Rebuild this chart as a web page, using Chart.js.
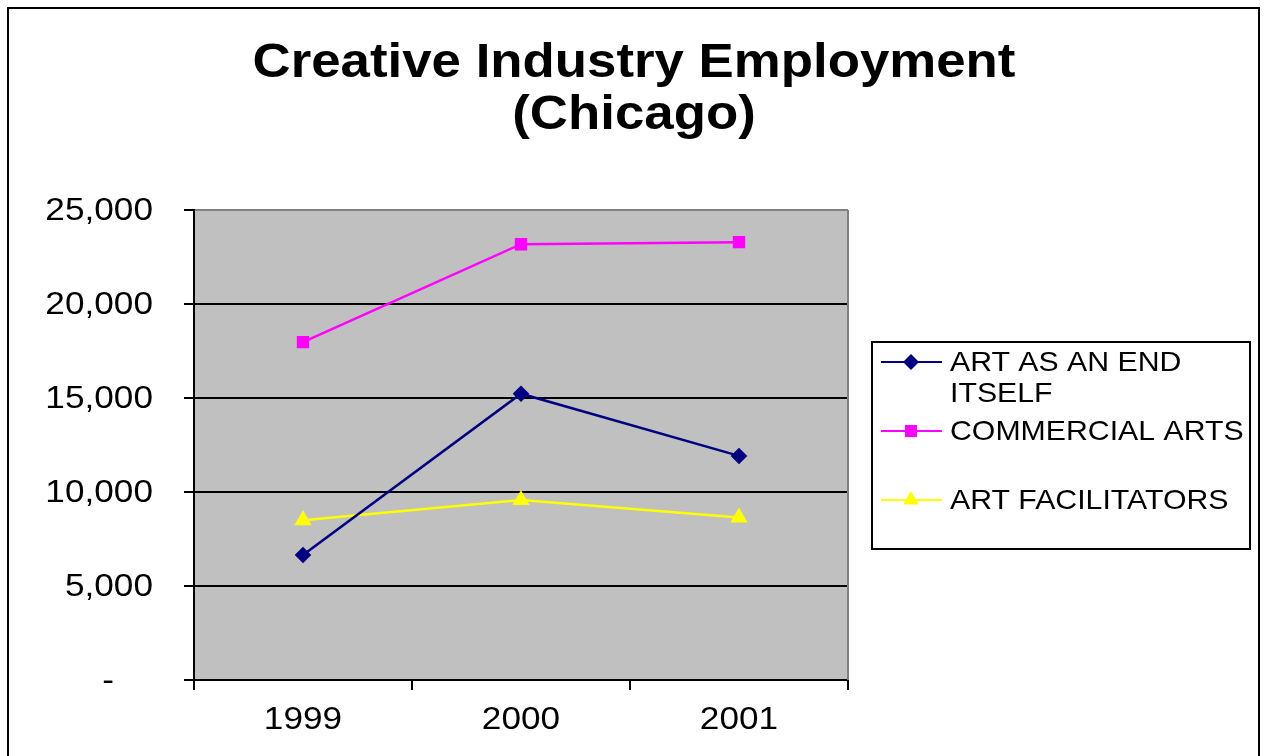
<html>
<head>
<style>
  body { margin: 0; background: #fff; }
  #wrap { width: 1264px; height: 756px; }
</style>
</head>
<body>
<div id="wrap"><canvas id="myChart" width="1264" height="756"></canvas></div>
<script src="https://cdn.jsdelivr.net/npm/chart.js@4/dist/chart.umd.min.js"></script>
<script>
// data
var years = ['1999', '2000', '2001'];
var artEndItself = [6650, 15230, 11920];
var commercialArts = [17970, 23180, 23290];
var artFacilitators = [8500, 9570, 8640];
var titleLines = ['Creative Industry Employment', '(Chicago)'];
var yTicks = [0, 5000, 10000, 15000, 20000, 25000];

var FONT = '"Liberation Sans", Arial, sans-serif';
var SX = 1.1; // the original text is a bit wide

function wideText(ctx, txt, x, y, align) {
    ctx.save();
    ctx.translate(x, y);
    ctx.scale(SX, 1);
    ctx.textAlign = align;
    ctx.fillText(txt, 0, 0);
    ctx.restore();
}

function marker(ctx, style, x, y, r, color) {
    ctx.save();
    ctx.fillStyle = color;
    ctx.beginPath();
    if (style == 'rectRot') {
        ctx.moveTo(x, y - r); ctx.lineTo(x + r, y); ctx.lineTo(x, y + r); ctx.lineTo(x - r, y);
    } else if (style == 'rect') {
        var s = r * Math.SQRT1_2;
        ctx.rect(x - s, y - s, 2 * s, 2 * s);
    } else {
        ctx.moveTo(x, y - r); ctx.lineTo(x + r * 0.866, y + r * 0.5); ctx.lineTo(x - r * 0.866, y + r * 0.5);
    }
    ctx.closePath();
    ctx.fill();
    ctx.restore();
}

// grey plot area, outer frame, title, tick labels, legend
var excelLook = {
    id: 'excelLook',
    beforeDraw: function(chart) {
        var ctx = chart.ctx, a = chart.chartArea;
        ctx.save();
        ctx.fillStyle = '#fff';
        ctx.fillRect(0, 0, chart.width, chart.height);
        ctx.fillStyle = '#c0c0c0';
        ctx.fillRect(a.left, a.top, a.right - a.left, a.bottom - a.top);
        ctx.strokeStyle = '#000';
        ctx.lineWidth = 2;
        ctx.strokeRect(8, 8, 1251, 800);
        ctx.restore();
    },
    beforeDatasetsDraw: function(chart) {
        var ctx = chart.ctx, a = chart.chartArea;
        ctx.save();
        ctx.strokeStyle = '#808080';
        ctx.lineWidth = 2;
        ctx.beginPath();
        ctx.moveTo(a.right, a.top);
        ctx.lineTo(a.right, a.bottom);
        ctx.stroke();
        ctx.restore();
    },
    afterDraw: function(chart) {
        var ctx = chart.ctx;
        var xs = chart.scales.x, ys = chart.scales.y;
        ctx.save();
        ctx.fillStyle = '#000';
        ctx.textBaseline = 'alphabetic';

        // title
        ctx.font = 'bold 48px ' + FONT;
        wideText(ctx, titleLines[0], 634, 77, 'center');
        wideText(ctx, titleLines[1], 634, 129, 'center');

        // y labels
        ctx.font = '32px ' + FONT;
        ctx.textBaseline = 'middle';
        var pad = ctx.measureText('00').width * SX;
        yTicks.forEach(function(v) {
            var y = ys.getPixelForValue(v) + 1;
            if (v === 0) wideText(ctx, '-', 153 - pad, y, 'right');
            else wideText(ctx, v.toLocaleString('en-US'), 153, y, 'right');
        });

        // x labels
        ctx.font = '32px ' + FONT;
        years.forEach(function(lab, i) {
            wideText(ctx, lab, xs.getPixelForValue(i), 720, 'center');
        });

        // legend box
        var L = {x: 872, y: 342, w: 378, h: 207};
        ctx.fillStyle = '#fff';
        ctx.fillRect(L.x, L.y, L.w, L.h);
        ctx.strokeStyle = '#000';
        ctx.lineWidth = 2;
        ctx.strokeRect(L.x, L.y, L.w, L.h);

        var rowY = [362, 431, 500];
        ctx.font = '27.5px ' + FONT;
        ctx.textBaseline = 'middle';
        chart.data.datasets.forEach(function(ds, i) {
            var y = rowY[i];
            ctx.strokeStyle = ds.borderColor;
            ctx.lineWidth = 2;
            ctx.beginPath();
            ctx.moveTo(881, y);
            ctx.lineTo(942, y);
            ctx.stroke();
            marker(ctx, ds.pointStyle, 911, y, ds.pointRadius + 1.5, ds.pointBackgroundColor);

            // wrap long labels
            var words = ds.label.split(' '), lines = [], cur = '';
            words.forEach(function(w) {
                var t = cur ? cur + ' ' + w : w;
                if (ctx.measureText(t).width * SX > 300 && cur) { lines.push(cur); cur = w; }
                else cur = t;
            });
            lines.push(cur);
            ctx.fillStyle = '#000';
            lines.forEach(function(ln, k) {
                wideText(ctx, ln, 950, y + 1 + k * 31, 'left');
            });
        });
        ctx.restore();
    }
};

var ctx = document.getElementById('myChart').getContext('2d');
new Chart(ctx, {
    type: 'line',
    data: {
        labels: years,
        datasets: [{
            label: 'ART AS AN END ITSELF',
            data: artEndItself,
            borderColor: '#000080',
            borderWidth: 2.5,
            pointBackgroundColor: '#000080',
            pointBorderColor: '#000080',
            pointStyle: 'rectRot',
            pointRadius: 6.5
        }, {
            label: 'COMMERCIAL ARTS',
            data: commercialArts,
            borderColor: '#ff00ff',
            borderWidth: 2.5,
            pointBackgroundColor: '#ff00ff',
            pointBorderColor: '#ff00ff',
            pointStyle: 'rect',
            pointRadius: 7
        }, {
            label: 'ART FACILITATORS',
            data: artFacilitators,
            borderColor: '#ffff00',
            borderWidth: 2.5,
            pointBackgroundColor: '#ffff00',
            pointBorderColor: '#ffff00',
            pointStyle: 'triangle',
            pointRadius: 7.5
        }]
    },
    options: {
        responsive: false,
        animation: false,
        elements: { line: { tension: 0 }, point: { borderWidth: 1 } },
        layout: { autoPadding: false, padding: { left: 0, top: 210, right: 416, bottom: 0 } },
        plugins: { legend: { display: false }, title: { display: false }, tooltip: { enabled: false } },
        scales: {
            x: {
                type: 'category',
                offset: true,
                grid: { display: true, drawOnChartArea: false, offset: true, tickLength: 10, color: '#000', lineWidth: 2 },
                border: { color: '#000', width: 2 },
                ticks: { display: false },
                afterFit: function(s) { s.height = 76; }
            },
            y: {
                min: 0,
                max: 25000,
                ticks: { display: false, stepSize: 5000 },
                grid: {
                    color: function(c) { return c.tick && c.tick.value === 25000 ? '#808080' : '#000'; },
                    tickColor: '#000',
                    lineWidth: 2,
                    tickLength: 10
                },
                border: { color: '#000', width: 2 },
                afterFit: function(s) { s.width = 194; }
            }
        }
    },
    plugins: [excelLook]
});
</script>
</body>
</html>
